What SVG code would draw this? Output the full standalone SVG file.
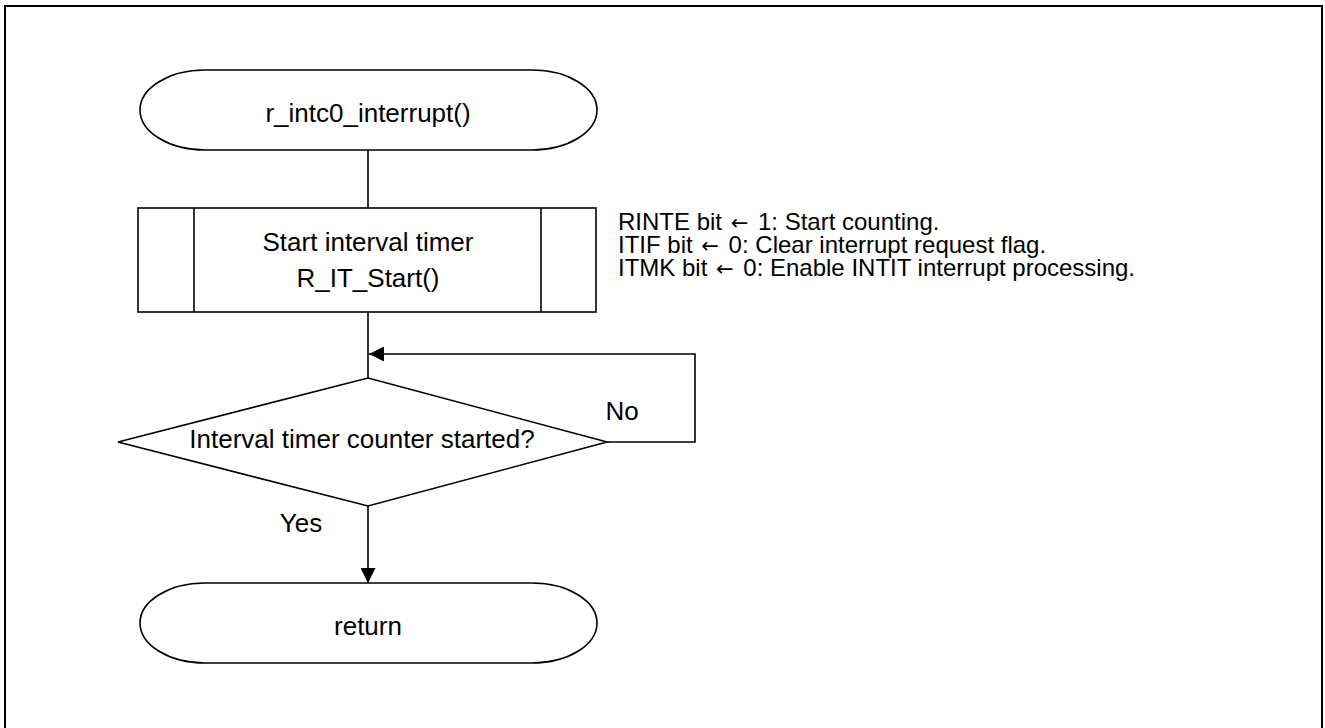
<svg xmlns="http://www.w3.org/2000/svg" width="1325" height="728" viewBox="0 0 1325 728">
<style>
.shape{fill:#fff;stroke:#000;stroke-width:1.6}
.line{fill:none;stroke:#000;stroke-width:1.6}
.t{font-family:"Liberation Sans",Arial,sans-serif;font-size:26px;fill:#000;text-anchor:middle}
.a{font-family:"Liberation Sans",Arial,sans-serif;font-size:24px;fill:#000}
.ar{font-family:"DejaVu Sans",sans-serif;font-size:21px}
</style>
<defs>
<marker id="arr" viewBox="0 0 15 15" refX="15" refY="7.5" markerWidth="15" markerHeight="15" markerUnits="userSpaceOnUse" orient="auto">
<path d="M0,0 L15,7.5 L0,15 Z" fill="#000"/>
</marker>
</defs>
<rect x="5" y="6" width="1317" height="740" fill="#fff" stroke="#000" stroke-width="2"/>
<g id="connectors">
<line class="line" x1="368" y1="150" x2="368" y2="208"/>
<line class="line" x1="368" y1="312" x2="368" y2="378"/>
<polyline class="line" points="607,442 695,442 695,354 369,354" marker-end="url(#arr)"/>
<line class="line" x1="368" y1="506" x2="368" y2="583" marker-end="url(#arr)"/>
<text class="t" x="622" y="420">No</text>
<text class="t" x="301" y="532">Yes</text>
</g>
<g id="start">
<path class="shape" d="M205,70 L532,70 A65,40 0 0 1 532,150 L205,150 A65,40 0 0 1 205,70 Z"/>
<text class="t" x="368" y="122">r_intc0_interrupt()</text>
</g>
<g id="start_timer">
<rect class="shape" x="138" y="208" width="458" height="104"/>
<line class="line" x1="194" y1="208" x2="194" y2="312"/>
<line class="line" x1="541" y1="208" x2="541" y2="312"/>
<text class="t" x="368" y="251">Start interval timer</text>
<text class="t" x="368" y="287">R_IT_Start()</text>
</g>
<g id="note">
<text class="a" x="618" y="230">RINTE bit <tspan class="ar" dx="2">←</tspan><tspan dx="3"> 1: Start counting.</tspan></text>
<text class="a" x="618" y="253">ITIF bit <tspan class="ar" dx="2">←</tspan><tspan dx="3"> 0: Clear interrupt request flag.</tspan></text>
<text class="a" x="618" y="276">ITMK bit <tspan class="ar" dx="2">←</tspan><tspan dx="3"> 0: Enable INTIT interrupt processing.</tspan></text>
</g>
<g id="decision">
<polygon class="shape" points="368,378 607,442 368,506 118,442"/>
<text class="t" x="362" y="448">Interval timer counter started?</text>
</g>
<g id="end">
<path class="shape" d="M205,583 L532,583 A65,40 0 0 1 532,663 L205,663 A65,40 0 0 1 205,583 Z"/>
<text class="t" x="368" y="635">return</text>
</g>
</svg>
